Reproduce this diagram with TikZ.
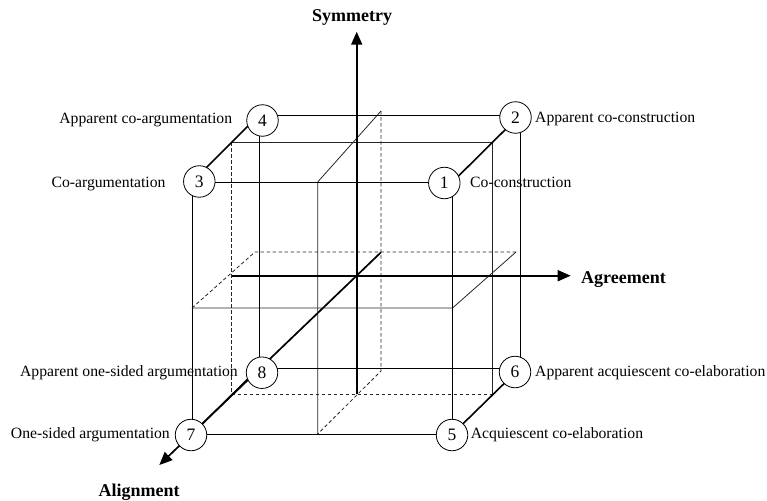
\documentclass[tikz,border=0pt]{standalone}
\usepackage{fontspec}
\setmainfont{Liberation Serif}
\usetikzlibrary{arrows.meta}
\begin{document}
\begin{tikzpicture}[x=1pt,y=-1pt,
  edge/.style={line width=1pt},
  inner/.style={line width=0.8pt, draw=black!85},
  hidden/.style={inner, dash pattern=on 3.5pt off 2.5pt},
  boldedge/.style={line width=1.6pt},
  axis/.style={line width=1.7pt, -{Triangle[length=13pt,width=11pt]}},
  state/.style={circle, draw, line width=0.8pt, fill=white, minimum size=31.5pt, inner sep=0pt, font=\fontsize{17.5}{18}\selectfont},
  lab/.style={inner sep=0pt, font=\fontsize{15.7}{18}\selectfont},
  axlab/.style={inner sep=0pt, font=\fontsize{18}{20}\selectfont\bfseries}]
\useasboundingbox (0,0) rectangle (767,500);
% cube vertices
\coordinate (FTL) at (192,182);
\coordinate (FTR) at (452.5,182);
\coordinate (FBL) at (192,434);
\coordinate (FBR) at (452.5,434);
\coordinate (BTL) at (259,115);
\coordinate (BTR) at (520,115);
\coordinate (BBL) at (259,368);
\coordinate (BBR) at (520,368);
% mid frontal plane
\coordinate (MTL) at (231.5,142);
\coordinate (MTR) at (492,142);
\coordinate (MBL) at (231.5,394);
\coordinate (MBR) at (492,394);
% horizontal mid plane
\coordinate (HFL) at (192,308);
\coordinate (HFR) at (452.5,308);
\coordinate (HBL) at (255,252);
\coordinate (HBR) at (516,252);
% vertical (agreement) mid plane
\coordinate (VFT) at (317.7,182);
\coordinate (VFB) at (317.7,434);
\coordinate (VBT) at (381,111);
\coordinate (VBB) at (381,371);
% axes
\coordinate (SymS) at (356.7,394);
\coordinate (SymE) at (356.7,31.7);
\coordinate (AgrS) at (231.5,275.7);
\coordinate (AgrE) at (570.7,275.7);
\coordinate (AliS) at (381,252.3);
\coordinate (AliE) at (159.3,465);

% inner planes
\draw[inner] (MTL) -- (MTR) -- (MBR);
\draw[hidden] (MTL) -- (MBL) -- (MBR);
\draw[inner] (HFL) -- (HFR) -- (HBR);
\draw[hidden] (HFL) -- (HBL) -- (HBR);
\draw[inner] (VFB) -- (VFT) -- (VBT);
\draw[hidden] (VBT) -- (VBB) -- (VFB);

% cube edges
\draw[edge] (FTL) -- (FTR) (FBL) -- (FBR) (FTL) -- (FBL) (FTR) -- (FBR);
\draw[edge] (BTL) -- (BTR) (BBL) -- (BBR) (BTL) -- (BBL) (BTR) -- (BBR);
\draw[boldedge] (FTL) -- (BTL) (FTR) -- (BTR) (FBR) -- (BBR) (FBL) -- (BBL);

% axes
\draw[axis] (SymS) -- (SymE);
\draw[axis] (AgrS) -- (AgrE);
\draw[axis] (AliS) -- (AliE);

% states
\node[state] (n1) at (444.3,183) {1};
\node[state] (n2) at (515.5,117.5) {2};
\node[state] (n3) at (199.3,181.5) {3};
\node[state] (n4) at (262.5,120.5) {4};
\node[state] (n5) at (452,435) {5};
\node[state] (n6) at (515,372) {6};
\node[state] (n7) at (191,435) {7};
\node[state] (n8) at (262,372.7) {8};

% labels
\node[lab, anchor=base east] (l4) at (232.3,123) {Apparent co-argumentation};
\node[lab, anchor=base east] (l3) at (165.7,187) {Co-argumentation};
\node[lab, anchor=base west] (l2) at (535,122.5) {Apparent co-construction};
\node[lab, anchor=base west] (l1) at (470,187) {Co-construction};
\node[lab, anchor=base east] (l8) at (238,376) {Apparent one-sided argumentation};
\node[lab, anchor=base east] (l7) at (170,438.5) {One-sided argumentation};
\node[lab, anchor=base west] (l6) at (535,376) {Apparent acquiescent co-elaboration};
\node[lab, anchor=base west] (l5) at (470.7,438.5) {Acquiescent co-elaboration};

\node[axlab, anchor=base] (sym) at (352.2,21.7) {Symmetry};
\node[axlab, anchor=base west] (agr) at (581,283.3) {Agreement};
\node[axlab, anchor=base] (ali) at (139.2,496) {Alignment};
\end{tikzpicture}
\end{document}
